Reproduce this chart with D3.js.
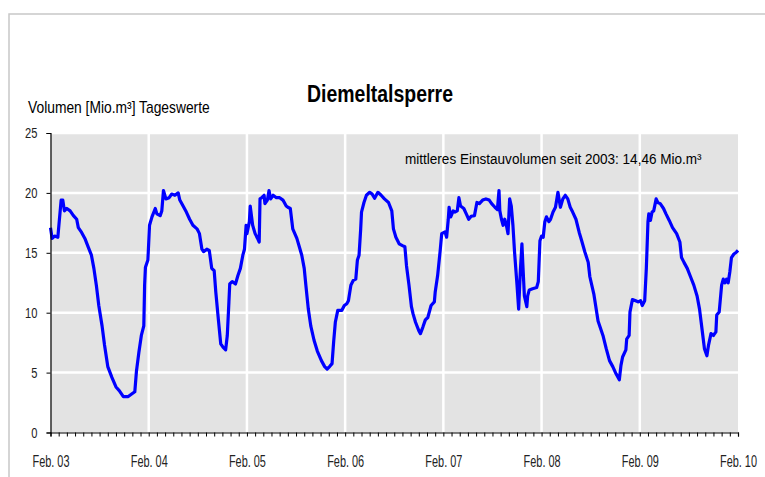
<!DOCTYPE html>
<html>
<head>
<meta charset="utf-8">
<script src="https://cdn.jsdelivr.net/npm/d3@7"></script>
<style>
  body { margin: 0; background: #fff; }
  svg { display: block; font-family: "Liberation Sans", Arial, sans-serif; }
</style>
</head>
<body>
<svg id="chart" width="765" height="477"></svg>
<script>
// months since Feb. 2003 and stored volume [Mio. m³]
const months = [
  0.0, 0.2, 0.5, 0.9, 1.0, 1.3, 1.5, 1.7, 2.0, 2.4, 2.8, 3.2, 3.4, 3.8, 4.2, 4.6, 5.0, 5.3, 5.6, 5.9,
  6.3, 6.6, 7.0, 7.5, 8.0, 8.4, 8.9, 9.5, 10.0, 10.3, 10.5, 10.8, 11.1, 11.4, 11.5, 11.6, 11.9, 12.1, 12.4, 12.8,
  13.0, 13.4, 13.6, 13.8, 14.1, 14.5, 14.8, 15.2, 15.6, 15.8, 16.2, 16.6, 17.0, 17.4, 17.9, 18.2, 18.5, 18.7, 19.1, 19.4,
  19.7, 20.0, 20.2, 20.5, 20.8, 21.1, 21.4, 21.6, 21.8, 21.9, 22.2, 22.6, 22.9, 23.2, 23.5, 23.7, 23.9, 24.0, 24.3, 24.4,
  24.7, 25.0, 25.3, 25.5, 25.6, 25.8, 26.1, 26.2, 26.5, 26.7, 26.9, 27.2, 27.6, 28.0, 28.4, 28.8, 29.0, 29.3, 29.6, 30.1,
  30.4, 30.7, 31.0, 31.2, 31.5, 31.8, 32.2, 32.6, 33.1, 33.5, 33.8, 34.1, 34.4, 34.6, 34.8, 35.1, 35.6, 35.9, 36.2, 36.4,
  36.7, 37.0, 37.3, 37.5, 37.7, 37.9, 38.0, 38.3, 38.6, 39.0, 39.3, 39.6, 40.0, 40.4, 40.8, 41.3, 41.7, 41.9, 42.2, 42.6,
  43.0, 43.3, 43.5, 43.8, 44.1, 44.3, 44.6, 45.0, 45.2, 45.5, 45.8, 46.1, 46.5, 46.9, 47.0, 47.3, 47.6, 47.8, 48.2, 48.4,
  48.6, 48.7, 48.9, 49.2, 49.4, 49.7, 49.9, 50.1, 50.5, 50.8, 51.1, 51.4, 51.8, 52.1, 52.4, 52.8, 53.2, 53.6, 53.9, 54.3,
  54.6, 54.8, 54.9, 55.1, 55.3, 55.5, 55.7, 55.9, 56.1, 56.3, 56.5, 56.7, 57.0, 57.2, 57.4, 57.6, 57.7, 57.9, 58.2, 58.3,
  58.5, 58.9, 59.4, 59.6, 59.8, 60.0, 60.2, 60.4, 60.6, 60.9, 61.1, 61.4, 61.7, 62.0, 62.3, 62.6, 62.9, 63.2, 63.5, 63.8,
  64.2, 64.6, 64.9, 65.3, 65.7, 65.9, 66.4, 66.9, 67.5, 67.9, 68.3, 68.7, 69.1, 69.5, 69.7, 69.9, 70.3, 70.4, 70.7, 70.8,
  71.1, 71.5, 71.8, 72.1, 72.3, 72.6, 72.8, 73.0, 73.1, 73.3, 73.5, 73.7, 74.0, 74.2, 74.5, 74.9, 75.2, 75.6, 76.0, 76.5,
  76.9, 77.1, 77.4, 77.8, 78.2, 78.6, 79.0, 79.3, 79.5, 79.7, 79.9, 80.2, 80.4, 80.7, 81.0, 81.3, 81.4, 81.7, 82.0, 82.2,
  82.4, 82.6, 82.8, 83.0, 83.2, 83.5, 83.8, 84.0
];
const volume = [
  17.1, 16.2, 16.4, 16.3, 17.1, 19.4, 19.4, 18.5, 18.7, 18.5, 18.1, 17.8, 17.1, 16.7, 16.2, 15.5, 14.8, 13.7, 12.3, 10.6,
  8.9, 7.3, 5.5, 4.6, 3.8, 3.5, 3.0, 3.0, 3.25, 3.4, 5.1, 6.7, 8.1, 8.9, 12.3, 13.8, 14.4, 17.3, 18.0, 18.7,
  18.25, 18.1, 18.5, 20.2, 19.5, 19.6, 19.9, 19.8, 20.0, 19.4, 18.9, 18.4, 17.8, 17.3, 17.0, 16.6, 15.3, 15.1, 15.3, 15.2,
  13.7, 13.5, 11.7, 9.5, 7.4, 7.1, 6.9, 8.1, 10.9, 12.4, 12.6, 12.4, 13.1, 13.7, 14.8, 15.3, 17.3, 16.6, 17.6, 18.9,
  17.3, 16.6, 16.2, 15.9, 19.5, 19.6, 19.8, 19.1, 19.4, 20.2, 19.5, 19.8, 19.6, 19.6, 19.4, 18.9, 18.8, 18.7, 17.0, 16.2,
  15.5, 14.8, 13.7, 12.3, 10.3, 8.9, 7.7, 6.8, 6.0, 5.5, 5.3, 5.5, 5.75, 7.6, 9.2, 10.2, 10.2, 10.6, 10.75, 11.0,
  12.3, 12.7, 12.8, 14.4, 14.8, 17.0, 18.4, 19.2, 19.8, 20.05, 19.9, 19.55, 20.05, 19.8, 19.5, 19.2, 18.5, 17.0, 16.3, 15.75,
  15.6, 15.5, 13.9, 12.3, 10.5, 9.9, 9.2, 8.5, 8.25, 8.8, 9.4, 9.6, 10.6, 10.9, 11.7, 13.1, 15.1, 16.6, 16.75, 16.3,
  17.8, 18.8, 18.0, 18.5, 18.4, 18.5, 19.6, 18.9, 18.7, 18.25, 17.8, 18.05, 18.1, 19.2, 19.1, 19.4, 19.5, 19.4, 19.1, 18.8,
  18.6, 20.2, 18.5, 17.8, 17.3, 17.8, 17.3, 16.6, 19.5, 18.9, 17.3, 15.05, 12.3, 10.3, 13.4, 15.75, 14.2, 11.4, 10.5, 11.4,
  11.9, 12.0, 12.1, 12.6, 16.0, 16.4, 16.3, 17.6, 18.0, 17.6, 17.8, 18.4, 18.8, 20.05, 18.8, 19.5, 19.8, 19.5, 18.8, 18.4,
  17.8, 16.7, 16.0, 15.05, 14.2, 13.0, 11.5, 9.3, 8.1, 7.0, 6.0, 5.5, 4.9, 4.4, 5.6, 6.3, 6.9, 7.8, 8.1, 10.05,
  11.1, 11.0, 10.9, 11.0, 10.6, 11.0, 13.7, 17.6, 18.25, 17.7, 18.4, 18.5, 19.5, 19.2, 19.1, 18.7, 18.25, 17.7, 17.1, 16.6,
  15.9, 14.6, 14.2, 13.7, 13.0, 12.3, 11.4, 10.3, 9.2, 8.1, 7.0, 6.4, 7.3, 8.25, 8.1, 8.4, 9.8, 10.05, 12.3, 12.8,
  12.5, 12.8, 12.5, 13.4, 14.6, 14.9, 15.05, 15.2
];
const yearLabels = ["Feb. 03", "Feb. 04", "Feb. 05", "Feb. 06", "Feb. 07", "Feb. 08", "Feb. 09", "Feb. 10"];
const yTicks = [0, 5, 10, 15, 20, 25];

const svg = d3.select("#chart");
const plotLeft = 50.5, plotRight = 738, plotTop = 133, plotBottom = 432.5;

// light frame of the chart object
svg.append("path")
    .attr("d", "M9,477 V14 H765")
    .attr("fill", "none")
    .attr("stroke", "#c8c8c8")
    .attr("stroke-width", 1.5);

const x = d3.scaleLinear().domain([0, 84]).range([plotLeft, plotRight]);
const y = d3.scaleLinear().domain([0, 25]).range([plotBottom, plotTop]);

// plot area
svg.append("rect")
    .attr("x", plotLeft).attr("y", plotTop)
    .attr("width", plotRight - plotLeft).attr("height", plotBottom - plotTop)
    .attr("fill", "#e3e3e3");

// white gridlines
svg.append("g").selectAll("line")
    .data(yTicks.filter(d => d > 0))
    .enter().append("line")
    .attr("x1", plotLeft).attr("x2", plotRight)
    .attr("y1", d => y(d)).attr("y2", d => y(d))
    .attr("stroke", "#fff").attr("stroke-width", 2.5);

svg.append("g").selectAll("line")
    .data(d3.range(12, 84, 12))
    .enter().append("line")
    .attr("x1", d => x(d)).attr("x2", d => x(d))
    .attr("y1", plotTop).attr("y2", plotBottom)
    .attr("stroke", "#fff").attr("stroke-width", 2.5);

// volume curve
const line = d3.line()
    .x((d, i) => x(months[i]))
    .y(d => y(d));

svg.append("path")
    .datum(volume)
    .attr("d", line)
    .attr("fill", "none")
    .attr("stroke", "#0000ff")
    .attr("stroke-width", 3.2)
    .attr("stroke-linejoin", "round");

// axes
const yAxis = svg.append("g")
    .attr("transform", `translate(${plotLeft},0)`)
    .call(d3.axisLeft(y).tickValues(yTicks).tickSize(4).tickPadding(9));

svg.append("g")
    .attr("transform", `translate(0,${plotBottom})`)
    .call(d3.axisBottom(x).tickValues(d3.range(0, 85)).tickSize(4).tickFormat(""));

const xLabels = svg.append("g")
    .attr("transform", `translate(0,${plotBottom})`)
    .call(d3.axisBottom(x).tickValues(d3.range(0, 85, 12)).tickSize(0).tickPadding(23)
        .tickFormat(d => yearLabels[d / 12]));
xLabels.select(".domain").remove();

svg.selectAll(".domain").attr("stroke", "#000").attr("stroke-width", 1.2);
svg.selectAll(".tick line").attr("stroke", "#000");
svg.selectAll(".tick text").attr("fill", "#222");
yAxis.selectAll(".tick text").style("font-size", "15px");
xLabels.selectAll(".tick text").style("font-size", "16px");

// narrow text: keep the height, squeeze the width to w (scaled about the anchor x)
function narrow(sel, w) {
    const node = sel.node();
    const s = w / node.getComputedTextLength();
    const ax = +sel.attr("x") || 0;
    sel.attr("transform", `translate(${ax * (1 - s)},0) scale(${s},1)`);
}
yAxis.selectAll(".tick text").each(function() {
    narrow(d3.select(this), this.textContent.length * 6.2);
});
xLabels.selectAll(".tick text").each(function() {
    narrow(d3.select(this), 37);
});

const title = svg.append("text")
    .attr("x", 380).attr("y", 102)
    .attr("text-anchor", "middle")
    .style("font-size", "23px").style("font-weight", "bold")
    .text("Diemeltalsperre");
narrow(title, 146);

const yTitle = svg.append("text")
    .attr("x", 28).attr("y", 113)
    .style("font-size", "16px")
    .text("Volumen [Mio.m³]  Tageswerte");
narrow(yTitle, 182);

const note = svg.append("text")
    .attr("x", 405).attr("y", 164)
    .style("font-size", "15px")
    .text("mittleres Einstauvolumen seit  2003:  14,46 Mio.m³");
narrow(note, 297);
</script>
</body>
</html>
